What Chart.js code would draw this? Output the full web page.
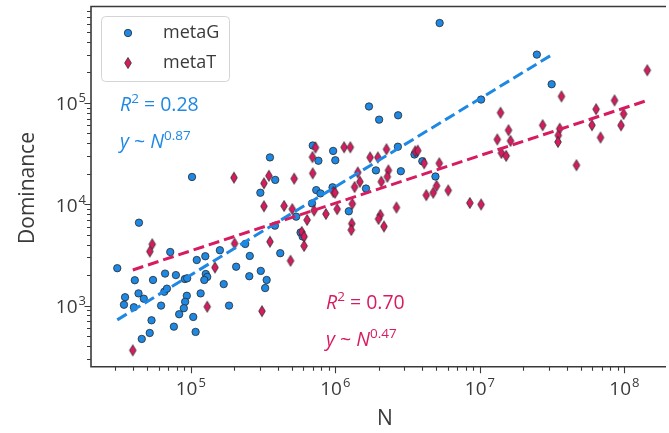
<!DOCTYPE html>
<html>
<head>
<meta charset="utf-8">
<script src="https://cdn.jsdelivr.net/npm/chart.js@4.4.1/dist/chart.umd.min.js"></script>
<style>
  html, body { margin: 0; padding: 0; background: #fff; }
  #wrap { width: 669px; height: 433px; position: relative; }
</style>
</head>
<body>
<div id="wrap"><canvas id="chart"></canvas></div>
<script>
// metaG samples: population size N and dominance
const metaG_N = [3.10e4, 4.38e4, 7.21e4, 4.10e4, 5.48e4, 6.64e4, 7.89e4, 1.10e5, 1.26e5, 9.10e4,
  9.44e4, 1.27e5, 1.30e5, 1.24e5, 4.35e4, 3.51e4, 3.45e4, 4.04e4, 4.73e4, 6.56e4,
  6.84e4, 6.23e4, 9.39e4, 9.14e4, 8.95e4, 8.31e4, 1.17e5, 1.04e5, 5.35e4, 7.64e4,
  5.20e4, 4.58e4, 1.08e5, 5.36e5, 3.82e5, 2.38e5, 1.59e5, 2.56e5, 4.16e5, 2.06e5,
  3.05e5, 2.54e5, 3.35e5, 3.27e5, 1.69e5, 1.84e5, 5.75e5, 5.94e5, 1.02e5, 3.53e5,
  3.84e5, 3.03e5, 6.98e5, 7.64e5, 7.38e5, 7.89e5, 6.90e5, 1.71e6, 2.01e6, 2.72e6,
  9.66e5, 1.00e6, 2.71e6, 1.91e6, 2.84e6, 3.53e6, 4.00e6, 1.63e6, 9.57e5, 4.93e6,
  1.24e6, 5.27e6, 2.48e7, 3.14e7, 1.02e7];
const metaG_D = [2340, 6580, 3380, 1780, 1790, 2070, 2000, 2820, 3070, 1830,
  1860, 2050, 1920, 1790, 1320, 1210, 1020, 963, 1170, 1370,
  1470, 1000, 1250, 1090, 942, 822, 1320, 773, 716, 620,
  537, 469, 550, 7550, 6150, 4060, 3520, 3090, 3290, 2420,
  2200, 1950, 1790, 1490, 1630, 1000, 5270, 4810, 1.86e4, 2.90e4,
  1.74e4, 1.30e4, 3.80e4, 2.69e4, 1.38e4, 1.28e4, 1.02e4, 9.23e4, 6.84e4, 7.55e4,
  3.36e4, 2.72e4, 3.70e4, 2.16e4, 2.12e4, 3.10e4, 2.66e4, 1.43e4, 1.47e4, 1.88e4,
  8530, 6.15e5, 3.00e5, 1.53e5, 1.08e5];

// metaT samples
const metaT_N = [5.41e4, 5.21e4, 1.30e5, 3.97e4, 2.01e5, 3.53e5, 4.90e5, 1.47e5, 3.11e5, 5.86e5,
  6.08e5, 6.08e5, 6.38e5, 7.13e5, 1.99e5, 3.47e5, 3.21e5, 5.19e5, 7.29e5, 6.95e5,
  6.98e5, 3.21e5, 4.42e5, 5.04e5, 1.15e6, 1.27e6, 2.26e6, 1.74e6, 1.97e6, 3.57e6,
  3.72e6, 4.12e6, 5.24e6, 1.43e6, 2.33e6, 2.29e6, 1.48e6, 2.08e6, 1.36e6, 9.69e5,
  9.97e5, 1.31e6, 1.03e6, 2.65e6, 4.26e6, 4.76e6, 5.02e6, 6.04e6, 2.05e6, 1.99e6,
  2.17e6, 8.61e5, 1.30e6, 1.29e6, 8.53e6, 1.02e7, 1.39e7, 1.32e7, 1.58e7, 1.63e7,
  1.41e7, 1.52e7, 3.67e7, 2.72e7, 3.57e7, 3.49e7, 3.47e7, 4.66e7, 5.97e7, 6.37e7,
  6.84e7, 8.55e7, 9.88e7, 9.48e7, 1.44e8];
const metaT_D = [4030, 3420, 975, 362, 4100, 4270, 2770, 2380, 881, 5330,
  4790, 3880, 7000, 8690, 1.83e4, 1.91e4, 1.61e4, 1.79e4, 3.63e4, 2.92e4,
  2.02e4, 9550, 9620, 8950, 3.65e4, 3.65e4, 3.49e4, 2.90e4, 2.90e4, 3.33e4,
  3.38e4, 2.54e4, 2.54e4, 2.06e4, 2.16e4, 1.87e4, 1.67e4, 1.67e4, 1.48e4, 1.32e4,
  1.30e4, 1.01e4, 8950, 9290, 1.23e4, 1.30e4, 1.52e4, 1.37e4, 7840, 7160,
  6040, 8020, 6440, 5580, 1.03e4, 9950, 8.01e4, 4.36e4, 5.38e4, 4.22e4,
  3.21e4, 3.00e4, 1.16e5, 6.03e4, 5.57e4, 4.78e4, 4.12e4, 2.43e4, 6.03e4, 8.67e4,
  4.56e4, 1.06e5, 7.78e4, 6.01e4, 2.10e5];

// power-law fits y = a * N^k
const fitLabels = ['metaG', 'metaT'];
const fitK = [0.87, 0.47];
const fitA = [0.0895, 15.5];
const fitR2 = ['0.28', '0.70'];

// axis ranges and decade tick labels
const xRange = [2.04e4, 1.88e8];
const yRange = [249.5, 8.95e5];
const xTickExp = [5, 6, 7, 8];
const yTickExp = [3, 4, 5];

const BLUE = '#1E88E5';
const RED = '#D81B60';
const INK = '#3a3a3a';
const FONT = '"Open Sans", Lato, sans-serif';

// thin diamond marker (matplotlib 'd')
function makeDiamond() {
  const c = document.createElement('canvas');
  c.width = 10; c.height = 14;
  const g = c.getContext('2d');
  g.beginPath();
  g.moveTo(5, 1.5); g.lineTo(8.3, 7); g.lineTo(5, 12.5); g.lineTo(1.7, 7); g.closePath();
  g.fillStyle = RED; g.fill();
  g.lineWidth = 0.8; g.strokeStyle = '#2a2a2a'; g.stroke();
  return c;
}
const diamond = makeDiamond();

const pts = (xs, ys) => xs.map((v, i) => ({ x: v, y: ys[i] }));
const fitLine = (xs, i) => {
  const lo = Math.min(...xs), hi = Math.max(...xs);
  return [lo, hi].map(n => ({ x: n, y: fitA[i] * Math.pow(n, fitK[i]) }));
};

// "10" with a raised exponent
function drawPow(ctx, e, x, y, align) {
  ctx.font = `19px ${FONT}`;
  const wb = ctx.measureText('10').width;
  ctx.font = `13px ${FONT}`;
  const we = ctx.measureText(String(e)).width;
  const w = wb + we + 1;
  const left = align === 'center' ? x - w / 2 : x - w;
  ctx.textAlign = 'left';
  ctx.textBaseline = 'alphabetic';
  ctx.font = `19px ${FONT}`;
  ctx.fillText('10', left, y);
  ctx.font = `13px ${FONT}`;
  ctx.fillText(String(e), left + wb + 1, y - 8);
}

// sequence of text runs: [text, size, italic, dy]
function drawRuns(ctx, runs, x, y, color) {
  ctx.fillStyle = color;
  ctx.textAlign = 'left';
  ctx.textBaseline = 'alphabetic';
  let cx = x;
  for (const [t, size, it, dy] of runs) {
    ctx.font = `${it ? 'italic ' : ''}${size}px ${FONT}`;
    ctx.fillText(t, cx, y - (dy || 0));
    cx += ctx.measureText(t).width;
  }
}

const frame = {
  id: 'frame',
  afterDraw(chart) {
    const { ctx, chartArea: a, scales: { x, y } } = chart;
    ctx.save();
    ctx.strokeStyle = INK;
    ctx.lineWidth = 1.6;
    ctx.beginPath();
    ctx.moveTo(a.right + 2, a.top);
    ctx.lineTo(a.left, a.top);
    ctx.lineTo(a.left, a.bottom);
    ctx.lineTo(a.right + 2, a.bottom);
    ctx.stroke();

    // ticks, 1..9 per decade
    ctx.lineWidth = 1.1;
    ctx.beginPath();
    for (let k = 4; k <= 8; k++) {
      for (let m = 1; m <= 9; m++) {
        const v = m * Math.pow(10, k);
        if (v < xRange[0] || v > xRange[1]) continue;
        const px = Math.round(x.getPixelForValue(v)) + 0.5;
        const len = m === 1 ? 6.5 : 4;
        ctx.moveTo(px, a.bottom); ctx.lineTo(px, a.bottom + len);
      }
    }
    for (let k = 2; k <= 5; k++) {
      for (let m = 1; m <= 9; m++) {
        const v = m * Math.pow(10, k);
        if (v < yRange[0] || v > yRange[1]) continue;
        const py = Math.round(y.getPixelForValue(v)) + 0.5;
        const len = m === 1 ? 6.5 : 4;
        ctx.moveTo(a.left, py); ctx.lineTo(a.left - len, py);
      }
    }
    ctx.stroke();

    ctx.fillStyle = INK;
    xTickExp.forEach(e => drawPow(ctx, e, x.getPixelForValue(Math.pow(10, e)), 395, 'center'));
    yTickExp.forEach(e => drawPow(ctx, e, 86, y.getPixelForValue(Math.pow(10, e)) + 7.5, 'right'));

    // axis titles
    ctx.font = `21px ${FONT}`;
    ctx.textAlign = 'center';
    ctx.textBaseline = 'alphabetic';
    ctx.fillText('N', 385, 425);
    ctx.save();
    ctx.translate(34, 188);
    ctx.rotate(-Math.PI / 2);
    ctx.fillText('Dominance', 0, 0);
    ctx.restore();

    // legend box
    ctx.beginPath();
    ctx.roundRect(101.5, 16.5, 128, 65, 4);
    ctx.fillStyle = 'rgba(255,255,255,0.85)';
    ctx.fill();
    ctx.strokeStyle = '#d4d4d4';
    ctx.lineWidth = 1;
    ctx.stroke();
    ctx.beginPath();
    ctx.arc(128, 33, 3.7, 0, Math.PI * 2);
    ctx.fillStyle = BLUE; ctx.fill();
    ctx.strokeStyle = '#2a2a2a'; ctx.lineWidth = 0.8; ctx.stroke();
    ctx.drawImage(diamond, 128 - 5, 63 - 7);
    ctx.fillStyle = INK;
    ctx.font = `18px ${FONT}`;
    ctx.textAlign = 'left';
    ctx.textBaseline = 'middle';
    ctx.fillText(fitLabels[0], 163, 33);
    ctx.fillText(fitLabels[1], 163, 63);

    // fit annotations
    const big = 19.5, small = 13.5, up = 8;
    drawRuns(ctx, [['R', big, true], ['2', small, false, up], [' = ' + fitR2[0], big, false]], 120, 111, BLUE);
    drawRuns(ctx, [['y', big, true], [' ~ ', big, false], ['N', big, true], [fitK[0].toFixed(2), small, false, up]], 120, 148, BLUE);
    drawRuns(ctx, [['R', big, true], ['2', small, false, up], [' = ' + fitR2[1], big, false]], 326, 309, RED);
    drawRuns(ctx, [['y', big, true], [' ~ ', big, false], ['N', big, true], [fitK[1].toFixed(2), small, false, up]], 326, 346, RED);
    ctx.restore();
  }
};

new Chart(document.getElementById('chart'), {
  type: 'scatter',
  data: {
    datasets: [
      {
        label: 'metaG',
        data: pts(metaG_N, metaG_D),
        backgroundColor: BLUE,
        borderColor: '#2a2a2a',
        borderWidth: 0.8,
        pointRadius: 3.7,
        order: 3
      },
      {
        label: 'metaT',
        data: pts(metaT_N, metaT_D),
        pointStyle: diamond,
        backgroundColor: RED,
        order: 2
      },
      {
        type: 'line',
        data: fitLine(metaG_N, 0),
        borderColor: BLUE,
        borderWidth: 3,
        borderDash: [11, 5],
        pointRadius: 0,
        order: 1
      },
      {
        type: 'line',
        data: fitLine(metaT_N, 1),
        borderColor: RED,
        borderWidth: 3,
        borderDash: [11, 5],
        pointRadius: 0,
        order: 0
      }
    ]
  },
  options: {
    responsive: true,
    maintainAspectRatio: false,
    animation: false,
    events: [],
    layout: { padding: { left: 91, top: 6.5, right: 0, bottom: 66.3 } },
    plugins: { legend: { display: false }, tooltip: { enabled: false } },
    scales: {
      x: { type: 'logarithmic', min: xRange[0], max: xRange[1], display: false },
      y: { type: 'logarithmic', min: yRange[0], max: yRange[1], display: false }
    }
  },
  plugins: [frame]
});
</script>
</body>
</html>
